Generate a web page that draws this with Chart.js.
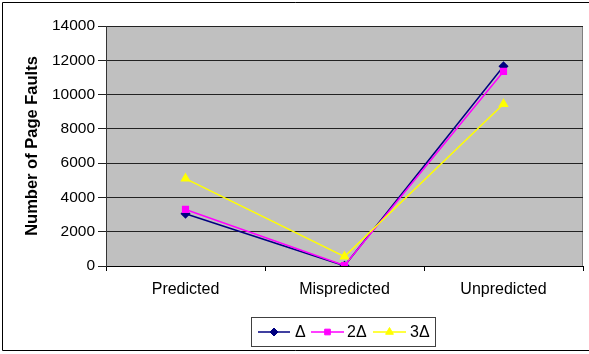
<!DOCTYPE html>
<html>
<head>
<meta charset="utf-8">
<script src="https://cdn.jsdelivr.net/npm/chart.js@4.4.0/dist/chart.umd.min.js"></script>
<style>
html,body{margin:0;padding:0;background:#fff;}
#wrap{position:relative;width:589px;height:354px;}
canvas{display:block;}
</style>
</head>
<body>
<div id="wrap"><canvas id="c" width="589" height="354"></canvas></div>
<script>
const categories = ["Predicted", "Mispredicted", "Unpredicted"];
const seriesNames = ["\u0394", "2\u0394", "3\u0394"];
const seriesDelta = [3050, 10, 11650];
const series2Delta = [3300, 30, 11350];
const series3Delta = [5100, 550, 9450];
const yTicks = [0, 2000, 4000, 6000, 8000, 10000, 12000, 14000];

const colors = ["#000080", "#FF00FF", "#FFFF00"];
const markers = ["rectRot", "rect", "triangle"];
const radii = [4, 4, 4.5];
const FONT = "'Liberation Sans', Arial, sans-serif";

const plotBg = {
  id: "plotBg",
  beforeDraw(chart) {
    const ctx = chart.ctx, a = chart.chartArea;
    ctx.save();
    ctx.strokeStyle = "#000";
    ctx.lineWidth = 1;
    ctx.beginPath();
    ctx.moveTo(2.5, 350.5); ctx.lineTo(2.5, 2.5); ctx.lineTo(589, 2.5);
    ctx.moveTo(2.5, 350.5); ctx.lineTo(589, 350.5);
    ctx.stroke();
    ctx.fillStyle = "#c0c0c0";
    ctx.fillRect(a.left, a.top, a.right - a.left, a.bottom - a.top);
    ctx.strokeStyle = "#808080";
    ctx.strokeRect(a.left + 0.5, a.top + 0.5, a.right - a.left - 1, a.bottom - a.top);
    ctx.restore();
  },
  afterDraw(chart) {
    const ctx = chart.ctx;
    ctx.save();
    const bx = 251, by = 317, bw = 184, bh = 29;
    ctx.strokeStyle = "#404040";
    ctx.lineWidth = 1;
    ctx.strokeRect(bx + 0.5, by + 0.5, bw, bh);
    const items = [
      {x1: 258, x2: 290, tx: 295},
      {x1: 311, x2: 344, tx: 347},
      {x1: 373, x2: 406, tx: 410}
    ];
    const cy = by + bh / 2 + 0.5;
    chart.data.datasets.forEach((ds, i) => {
      const it = items[i];
      ctx.strokeStyle = ds.borderColor;
      ctx.lineWidth = 1.5;
      ctx.beginPath();
      ctx.moveTo(it.x1, cy); ctx.lineTo(it.x2, cy);
      ctx.stroke();
      ctx.fillStyle = ds.borderColor;
      ctx.strokeStyle = ds.borderColor;
      ctx.lineWidth = 1;
      Chart.helpers.drawPoint(ctx, {
        pointStyle: ds.pointStyle, radius: ds.pointRadius, rotation: 0, borderWidth: 1
      }, (it.x1 + it.x2) / 2, cy);
      ctx.font = "16px " + FONT;
      ctx.textBaseline = "middle";
      ctx.textAlign = "left";
      ctx.fillStyle = "#000";
      ctx.fillText(ds.label, it.tx, cy + 1);
    });
    ctx.restore();
  }
};

const seriesData = [seriesDelta, series2Delta, series3Delta];
const datasets = seriesData.map((d, i) => ({
  label: seriesNames[i],
  data: d,
  borderColor: colors[i],
  backgroundColor: colors[i],
  pointBackgroundColor: colors[i],
  pointBorderColor: colors[i],
  pointStyle: markers[i],
  pointRadius: radii[i],
  pointHoverRadius: radii[i],
  borderWidth: 1.5,
  tension: 0,
  fill: false,
  order: 3 - i
}));

new Chart(document.getElementById("c"), {
  type: "line",
  data: { labels: categories, datasets },
  options: {
    responsive: false,
    animation: false,
    events: [],
    layout: { padding: { left: 0, right: 6, top: 26, bottom: 0 } },
    plugins: { legend: { display: false }, tooltip: { enabled: false } },
    scales: {
      x: {
        offset: true,
        grid: { display: true, offset: true, drawOnChartArea: false, drawTicks: true, tickLength: 5, color: "#000" },
        border: { display: true, color: "#000", width: 1 },
        ticks: { color: "#000", font: { family: FONT, size: 16 }, padding: 9, maxRotation: 0 },
        afterFit(s) { s.height = 88; }
      },
      y: {
        min: 0, max: 14000,
        afterBuildTicks(s) { s.ticks = yTicks.map(v => ({ value: v })); },
        grid: { color: "#222", lineWidth: 1, drawTicks: true, tickLength: 8 },
        border: { display: true, color: "#333", width: 1 },
        ticks: { color: "#000", font: { family: FONT, size: 15.5 }, padding: 3,
                 callback: (v) => String(v) },
        title: {
          display: true, text: "Number of Page Faults", color: "#000",
          font: { family: FONT, size: 16.5, weight: "bold" },
          padding: { top: 23, bottom: 0 }
        },
        afterFit(s) { s.width = 106; }
      }
    }
  },
  plugins: [plotBg]
});
</script>
</body>
</html>
